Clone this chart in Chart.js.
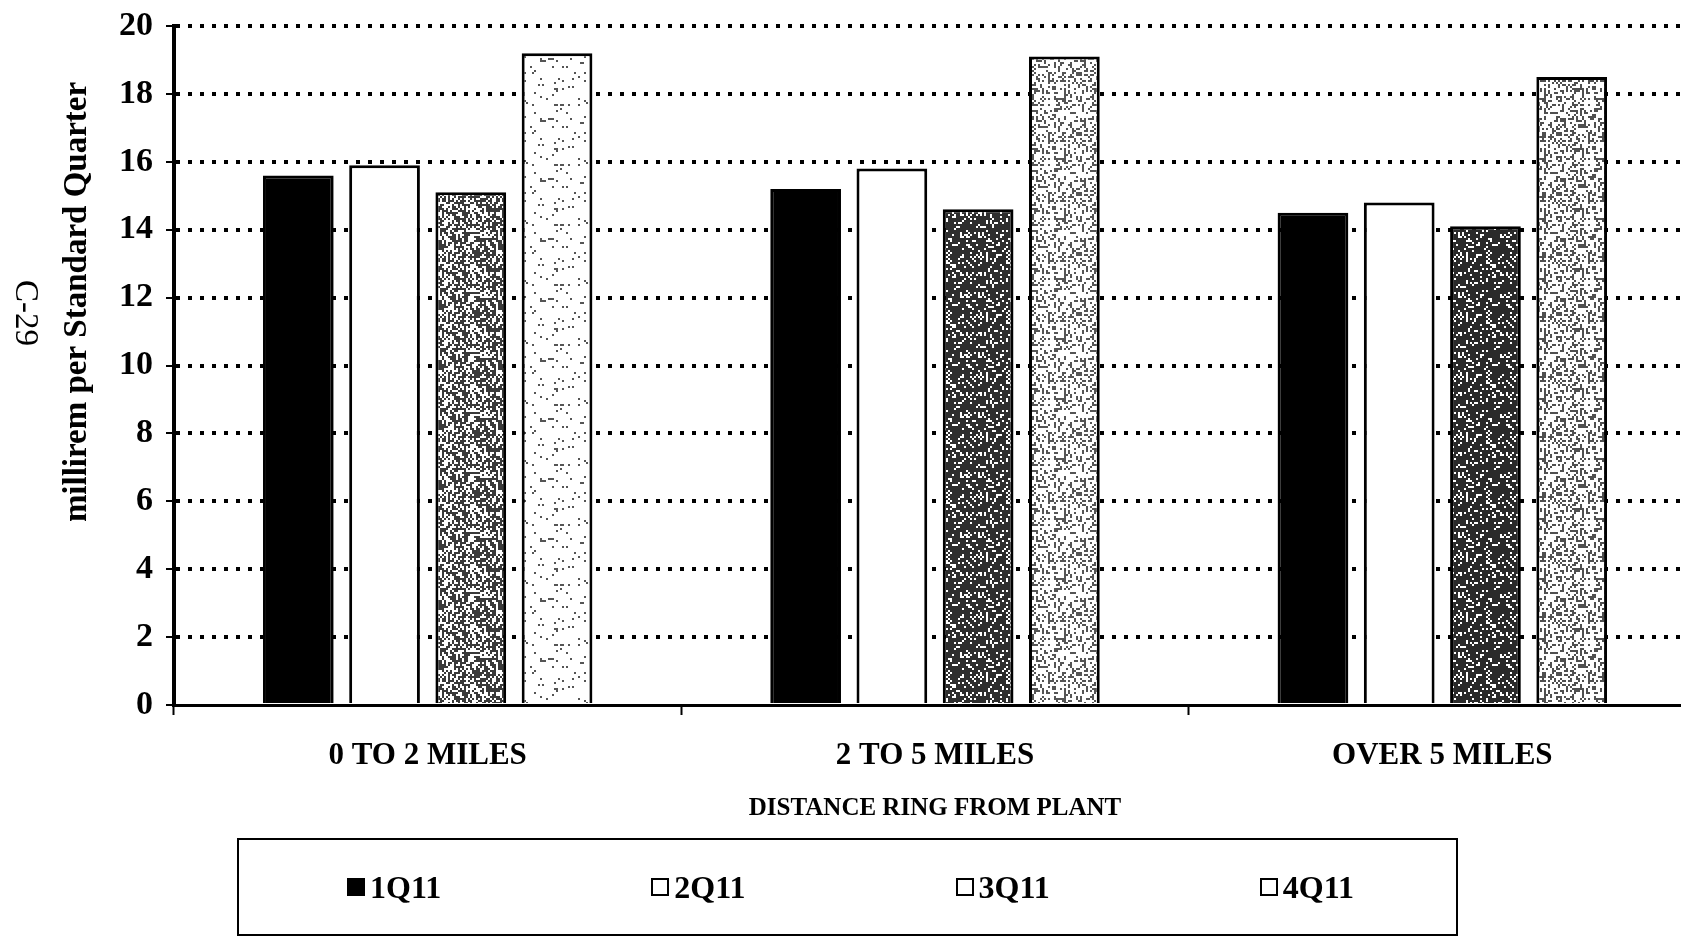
<!DOCTYPE html>
<html>
<head>
<meta charset="utf-8">
<title>millirem per Standard Quarter</title>
<script src="https://cdn.jsdelivr.net/npm/chart.js@4.4.0/dist/chart.umd.min.js"></script>
<style>
  html, body { margin: 0; padding: 0; background: #fff; overflow: hidden; }
  #wrap { position: relative; width: 1681px; height: 938px; overflow: hidden; }
  #chart { position: absolute; left: 0; top: 0; }
  #legend {
    position: absolute; left: 237px; top: 838px; width: 1217px; height: 94px;
    border: 2px solid #000; display: flex;
    font: bold 32px 'Liberation Serif', 'Times New Roman', serif; color: #000;
  }
  #legend .item { width: 25%; box-sizing: border-box; padding-left: 108px; display: flex; align-items: center; }
  #legend .box { width: 14px; height: 14px; border: 2px solid #000; margin-right: 5px; }
</style>
</head>
<body>
<div id="wrap">
  <canvas id="chart" width="1700" height="938"></canvas>
  <div id="legend"></div>
</div>
<script>
// 資料
const categories = ['0 TO 2 MILES', '2 TO 5 MILES', 'OVER 5 MILES'];
const seriesNames = ['1Q11', '2Q11', '3Q11', '4Q11'];
const q1Values = [15.6, 15.2, 14.5];
const q2Values = [15.9, 15.8, 14.8];
const q3Values = [15.1, 14.6, 14.1];
const q4Values = [19.2, 19.1, 18.5];
const yMin = 0;
const yMax = 20;
const yStep = 2;

const yTitle = 'millirem per Standard Quarter';
const xTitle = 'DISTANCE RING FROM PLANT';
const pageLabel = 'C-29';

const serif = "'Liberation Serif', 'Times New Roman', serif";

// 掃描斑點填色 (固定整數雜湊, 非隨機)
function hash(x, y) {
  let h = (x * 374761393 + y * 668265263) | 0;
  h = Math.imul(h ^ (h >>> 13), 1274126177);
  h ^= h >>> 16;
  return (h >>> 0) / 4294967296;
}

function speckle(density, ink) {
  const size = 60;
  const c = document.createElement('canvas');
  c.width = size;
  c.height = size;
  const g = c.getContext('2d');
  g.fillStyle = '#fff';
  g.fillRect(0, 0, size, size);
  g.fillStyle = ink;
  for (let y = 0; y < size; y += 2) {
    for (let x = 0; x < size; x += 2) {
      if (hash(x, y) < density) g.fillRect(x, y, 2, 2);
    }
  }
  return g.createPattern(c, 'repeat');
}

// 側邊文字 (y 軸標題與頁碼)
const sideText = {
  id: 'sideText',
  afterDraw(chart) {
    const ctx = chart.ctx;
    const area = chart.chartArea;
    ctx.save();
    ctx.fillStyle = '#000';
    ctx.textAlign = 'center';
    ctx.textBaseline = 'middle';

    ctx.save();
    ctx.translate(area.left - 97, 302);
    ctx.rotate(-Math.PI / 2);
    ctx.font = 'bold 33px ' + serif;
    ctx.fillText(yTitle, 0, 0);
    ctx.restore();

    ctx.save();
    ctx.translate(25, 313);
    ctx.rotate(Math.PI / 2);
    ctx.font = '33px ' + serif;
    ctx.fillText(pageLabel, 0, 0);
    ctx.restore();

    ctx.restore();
  },
};

const barBase = {
  borderColor: '#000',
  borderWidth: 3,
  categoryPercentage: 0.68,
  barPercentage: 0.82,
};

const chart = new Chart(document.getElementById('chart'), {
  type: 'bar',
  data: {
    labels: categories,
    datasets: [
      Object.assign({}, barBase, { label: seriesNames[0], data: q1Values, backgroundColor: '#000', legendFill: '#000' }),
      Object.assign({}, barBase, { label: seriesNames[1], data: q2Values, backgroundColor: '#fff', legendFill: '#fff' }),
      Object.assign({}, barBase, {
        label: seriesNames[2],
        data: q3Values,
        backgroundColor: [speckle(0.55, '#3a3a3a'), speckle(0.78, '#2e2e2e'), speckle(0.8, '#2a2a2a')],
        legendFill: '#fff',
      }),
      Object.assign({}, barBase, {
        label: seriesNames[3],
        data: q4Values,
        backgroundColor: [speckle(0.06, '#555'), speckle(0.3, '#555'), speckle(0.34, '#505050')],
        legendFill: '#fff',
      }),
    ],
  },
  options: {
    responsive: false,
    animation: false,
    layout: { padding: { top: 26, right: 4, left: 0, bottom: 0 } },
    plugins: {
      legend: { display: false },
      tooltip: { enabled: false },
    },
    scales: {
      x: {
        border: { display: true, color: '#000', width: 3 },
        grid: {
          offset: true,
          drawOnChartArea: false,
          drawTicks: true,
          tickLength: 10,
          tickColor: '#000',
          tickWidth: 2,
        },
        ticks: {
          color: '#000',
          padding: 22,
          font: { family: serif, size: 31, weight: 'bold' },
        },
        title: {
          display: true,
          text: xTitle,
          color: '#000',
          font: { family: serif, size: 25, weight: 'bold' },
          padding: { top: 0, bottom: 114 },
        },
        afterFit(scale) {
          scale.height = 233;
        },
      },
      y: {
        min: yMin,
        max: yMax,
        border: { display: true, color: '#000', width: 4, dash: [4, 8] },
        grid: {
          color: (ctx) => (ctx.tick && ctx.tick.value === 0 ? 'rgba(0,0,0,0)' : '#000'),
          lineWidth: 4,
          tickColor: '#000',
          tickWidth: 2,
          tickBorderDash: [],
          tickLength: 8,
        },
        ticks: {
          stepSize: yStep,
          color: '#000',
          padding: 13,
          font: { family: serif, size: 34, weight: 'bold' },
        },
        afterFit(scale) {
          scale.width = 174;
          scale.paddingTop = 0;
          scale.paddingBottom = 0;
        },
      },
    },
  },
  plugins: [sideText],
});

// 圖例
const legendEl = document.getElementById('legend');
chart.data.datasets.forEach((ds) => {
  const item = document.createElement('div');
  item.className = 'item';
  const box = document.createElement('span');
  box.className = 'box';
  box.style.background = ds.legendFill;
  const text = document.createElement('span');
  text.textContent = ds.label;
  item.appendChild(box);
  item.appendChild(text);
  legendEl.appendChild(item);
});
</script>
</body>
</html>
